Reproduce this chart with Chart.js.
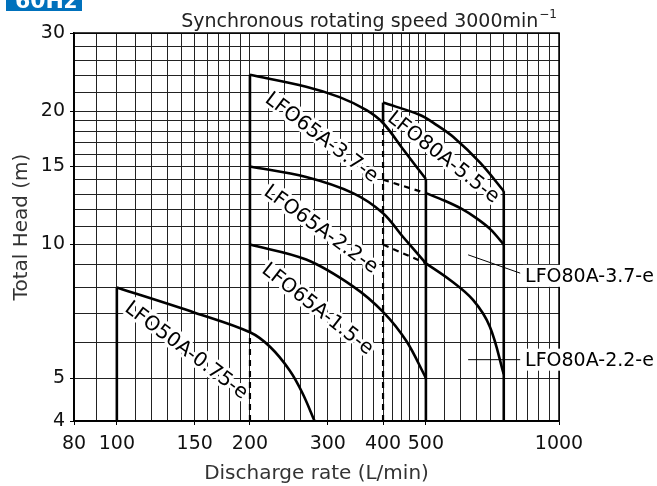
<!DOCTYPE html>
<html><head><meta charset="utf-8">
<script src="https://cdn.jsdelivr.net/npm/chart.js@4/dist/chart.umd.min.js"></script>
<style>html,body{margin:0;padding:0;background:#fff}#wrap{width:657px;height:486px;position:relative}</style>
</head><body><div id="wrap"><canvas id="c" width="657" height="486"></canvas></div>
<script>
// ---- grid / tick values ----
const qGrid = [80,90,100,110,120,130,140,150,160,170,180,190,200,220,240,260,280,300,320,340,360,380,400,420,440,460,480,500,550,600,650,700,750,800,850,900,950,1000];
const hGrid = [4,5,6,7,8,9,10,11,12,13,14,15,16,17,18,19,20,22,24,26,28,30];
const qLabels = [80,100,150,200,300,400,500,1000];
const hLabels = [4,5,10,15,20,30];

// ---- pump curves (Q L/min, H m) ----
const q50A075 = [100,150,200,222,246,263,280];
const h50A075 = [8.0,7.02,6.34,5.88,5.2,4.62,4.0];
const q65A15 = [200,268,342,400,452,500];
const h65A15 = [10,9.25,8.05,7.05,6.05,5.0];
const q65A22 = [200,268,342,400,444,500];
const h65A22 = [15,14.2,13.06,11.77,10.4,9.07];
const q65A37 = [200,268,319,367,400,444,500];
const h65A37 = [24.15,22.7,21.5,20.1,18.8,16.4,14.05];
const q80A55 = [400,485,529,576,663,750];
const h80A55 = [20.9,19.6,18.6,17.5,15.3,13.2];
const q80A37 = [500,550,600,650,700,750];
const h80A37 = [13.06,12.57,12.06,11.47,10.82,10.0];
const q80A37ext = [400,500];
const h80A37ext = [14.0,13.06];
const q80A22 = [500,566,639,698,750];
const h80A22 = [9.07,8.33,7.5,6.52,5.1];
const q80A22ext = [400,500];
const h80A22ext = [10.0,9.07];

// vertical limits (solid / dashed)
const vQ = [100,200,400,500,750];
const vLow = [4,6.34,18.8,4,4];
const vHigh = [8,24.15,20.9,14.05,13.2];
const dQ = [200,400];
const dLow = [4,4];
const dHigh = [6.34,18.8];

// labels
const curveLabels = [
  {text:'LFO65A-3.7-e', q:290, h:17.4, angle:37},
  {text:'LFO80A-5.5-e', q:547, h:15.7, angle:38},
  {text:'LFO65A-2.2-e', q:289, h:10.8, angle:36},
  {text:'LFO65A-1.5-e', q:284, h:7.14, angle:38},
  {text:'LFO50A-0.75-e', q:143.4, h:5.76, angle:37}
];
const sideLabels = [
  {text:'LFO80A-3.7-e', q1:623, h1:9.48, q2:817, h2:8.62, tq:838, th:8.5},
  {text:'LFO80A-2.2-e', q1:623, h1:5.5, q2:817, h2:5.5, tq:838, th:5.5}
];

const FONT = "'DejaVu Sans', sans-serif";

function curve(qs, hs, extra) {
  return Object.assign({
    data: qs.map((q,i)=>({x:q, y:hs[i]})),
    showLine: true, pointRadius: 0, borderColor: '#000', borderWidth: 2.6,
    tension: 0.35, fill: false
  }, extra || {});
}
const datasets = [
  curve(q50A075, h50A075), curve(q65A15, h65A15), curve(q65A22, h65A22),
  curve(q65A37, h65A37), curve(q80A55, h80A55), curve(q80A37, h80A37),
  curve(q80A22, h80A22),
  curve(q80A37ext, h80A37ext, {borderDash:[6,5], borderWidth:2.2, tension:0}),
  curve(q80A22ext, h80A22ext, {borderDash:[6,5], borderWidth:2.2, tension:0})
];
vQ.forEach((q,i)=>datasets.push(curve([q,q],[vLow[i],vHigh[i]],{tension:0})));
dQ.forEach((q,i)=>datasets.push(curve([q,q],[dLow[i],dHigh[i]],{borderDash:[6,5], borderWidth:2.2, tension:0})));

const decor = {
  id: 'decor',
  beforeDatasetsDraw(chart) {
    const {ctx, scales:{x,y}, chartArea:a} = chart;
    ctx.save();
    ctx.strokeStyle = '#000'; ctx.lineWidth = 1.5;
    ctx.strokeRect(a.left, a.top, a.right - a.left, a.bottom - a.top);
    ctx.font = '20px ' + FONT;
    ctx.textAlign = 'center'; ctx.textBaseline = 'middle';
    curveLabels.forEach(l => {
      ctx.save();
      ctx.translate(x.getPixelForValue(l.q), y.getPixelForValue(l.h));
      ctx.rotate(l.angle * Math.PI / 180);
      ctx.strokeStyle = '#fff'; ctx.lineWidth = 6; ctx.lineJoin = 'round';
      ctx.strokeText(l.text, 0, 0);
      ctx.fillStyle = '#000';
      ctx.fillText(l.text, 0, 0);
      ctx.restore();
    });
    ctx.font = '19px ' + FONT;
    ctx.textAlign = 'left'; ctx.textBaseline = 'middle';
    sideLabels.forEach(l => {
      const tx = x.getPixelForValue(l.tq), ty = y.getPixelForValue(l.th);
      const w = ctx.measureText(l.text).width;
      ctx.fillStyle = '#fff';
      ctx.fillRect(tx - 2, ty - 11, w + 4, 22);
      ctx.fillStyle = '#000';
      ctx.fillText(l.text, tx, ty + 1);
      ctx.strokeStyle = '#000'; ctx.lineWidth = 1;
      ctx.beginPath();
      ctx.moveTo(x.getPixelForValue(l.q1), y.getPixelForValue(l.h1));
      ctx.lineTo(x.getPixelForValue(l.q2), y.getPixelForValue(l.h2));
      ctx.stroke();
    });
    ctx.restore();
  },
  afterDraw(chart) {
    const {ctx, chartArea:a} = chart;
    ctx.save();
    ctx.fillStyle = '#0071BC';
    ctx.fillRect(6, 0, 76, 11);
    ctx.fillStyle = '#fff';
    ctx.font = 'bold 22px ' + FONT;
    ctx.textAlign = 'left'; ctx.textBaseline = 'alphabetic';
    ctx.fillText('60Hz', 15, 8);
    ctx.fillStyle = '#222';
    ctx.font = '12px ' + FONT;
    ctx.textAlign = 'right';
    const supW = ctx.measureText('\u22121').width;
    ctx.fillText('\u22121', a.right - 2, 18);
    ctx.font = '19px ' + FONT;
    ctx.fillText('Synchronous rotating speed 3000min', a.right - 3 - supW, 26.5);
    ctx.restore();
  }
};

new Chart(document.getElementById('c'), {
  type: 'scatter',
  data: { datasets },
  options: {
    responsive: false, animation: false, devicePixelRatio: 1,
    layout: { padding: { left: 0, right: 98, top: 33, bottom: 0 } },
    plugins: { legend: { display: false }, tooltip: { enabled: false } },
    scales: {
      x: {
        type: 'logarithmic', min: 80, max: 1000,
        afterBuildTicks: s => { s.ticks = qGrid.map(v => ({value: v})); },
        afterFit: s => { s.height = 65; },
        ticks: { autoSkip: false, maxRotation: 0, padding: 8, color: '#111',
          font: { family: FONT, size: 19 },
          callback: v => qLabels.includes(v) ? String(v) : '' },
        grid: { color: '#222', lineWidth: 1, tickLength: 4,
          tickColor: c => (c.tick && qLabels.includes(c.tick.value)) ? '#000' : 'rgba(0,0,0,0)' },
        border: { display: true, color: '#000', width: 1.5 },
        title: { display: true, text: 'Discharge rate (L/min)', color: '#333',
          font: { family: FONT, size: 20 }, padding: { top: 0, bottom: 0 } }
      },
      y: {
        type: 'logarithmic', min: 4, max: 30,
        afterBuildTicks: s => { s.ticks = hGrid.map(v => ({value: v})); },
        afterFit: s => { s.width = 74; },
        ticks: { autoSkip: false, padding: 5, color: '#111',
          font: { family: FONT, size: 19 },
          callback: v => hLabels.includes(v) ? String(v) : '' },
        grid: { color: '#222', lineWidth: 1, tickLength: 4,
          tickColor: c => (c.tick && hLabels.includes(c.tick.value)) ? '#000' : 'rgba(0,0,0,0)' },
        border: { display: true, color: '#000', width: 1.5 },
        title: { display: true, text: 'Total Head (m)', color: '#333',
          font: { family: FONT, size: 20 }, padding: { top: 10, bottom: 10 } }
      }
    }
  },
  plugins: [decor]
});
</script></body></html>
